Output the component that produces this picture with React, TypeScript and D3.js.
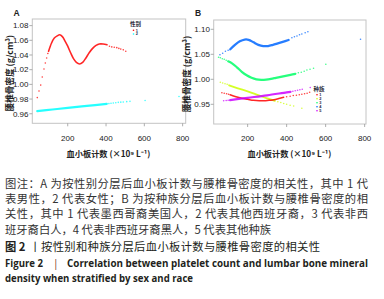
import React from 'react';
import * as d3 from 'd3';

type P = [number, number];

// ---------- axis ticks ----------
const xTicks = [200, 400, 600, 800];
const yTicksA = [0.96, 0.98, 1.0, 1.02, 1.04, 1.06, 1.08];
const yTicksB = [0.95, 1.0, 1.05, 1.1];

// ---------- legends ----------
const sexLevels = ['1', '2'];
const sexColors = ['#FF0000', '#00FFFF'];
const raceLevels = ['1', '2', '3', '4', '5'];
const raceColors = ['#FF0000', '#CCFF00', '#00FF66', '#0066FF', '#CC00FF'];

// ---------- Panel A (sex) ----------
const aSex1Left: P[] = [[41, 0.982], [50, 0.991], [59, 0.999], [67, 1.01], [76, 1.021], [83, 1.029], [90, 1.036], [96, 1.042]];
const aSex1Dense: P[] = [[100, 1.045], [115, 1.056], [130, 1.063], [145, 1.066], [158, 1.0675], [172, 1.065], [186, 1.059], [200, 1.052], [215, 1.043], [230, 1.035], [245, 1.03], [262, 1.0278], [278, 1.03], [295, 1.036], [312, 1.043], [330, 1.049], [348, 1.053], [365, 1.055], [385, 1.055], [405, 1.054]];
const aSex1Right: P[] = [[418, 1.052], [430, 1.051], [443, 1.0505], [456, 1.05], [467, 1.049], [477, 1.048], [490, 1.047], [503, 1.045]];

const aSex2Dense: P[] = [[41, 0.9635], [120, 0.9658], [200, 0.968], [300, 0.9707], [404, 0.9735]];
const aSex2Right: P[] = [[415, 0.9738], [426, 0.9742], [438, 0.9746], [451, 0.975], [464, 0.9755], [477, 0.9758], [490, 0.976], [508, 0.9765], [525, 0.9769], [604, 0.978], [781, 0.9835]];

// ---------- Panel B (race) ----------
const bR1Left: P[] = [[68, 0.973], [80, 0.972], [92, 0.971], [102, 0.97]];
const bR1Dense: P[] = [[110, 0.969], [140, 0.965], [170, 0.962], [200, 0.96], [230, 0.958], [260, 0.957], [285, 0.957], [310, 0.958], [335, 0.959], [360, 0.9615], [385, 0.964]];
const bR1Right: P[] = [[400, 0.965], [418, 0.966], [434, 0.9675], [450, 0.968], [465, 0.969], [478, 0.97], [492, 0.971], [505, 0.972], [518, 0.974]];

const bR2Left: P[] = [[60, 0.994], [72, 0.9925], [84, 0.991], [95, 0.99]];
const bR2Dense: P[] = [[105, 0.988], [150, 0.982], [200, 0.976], [250, 0.969], [300, 0.962], [340, 0.957]];
const bR2Right: P[] = [[355, 0.955], [370, 0.9535], [385, 0.9515], [400, 0.95], [418, 0.948], [436, 0.9466], [478, 0.942]];

const bR3Left: P[] = [[51, 1.044], [60, 1.043], [70, 1.041], [80, 1.04], [90, 1.038]];
const bR3Dense: P[] = [[100, 1.036], [120, 1.032], [145, 1.024], [170, 1.015], [195, 1.008], [220, 1.003], [245, 1.0], [270, 0.999], [295, 0.9995], [320, 1.001], [345, 1.003], [370, 1.005], [395, 1.007], [420, 1.009], [445, 1.011]];
const bR3Right: P[] = [[460, 1.013], [475, 1.014], [490, 1.016], [504, 1.0186], [520, 1.02], [538, 1.022], [601, 1.03]];

const bR4Left: P[] = [[58, 1.049], [72, 1.052], [86, 1.056], [100, 1.058]];
const bR4Dense: P[] = [[111, 1.06], [135, 1.069], [160, 1.076], [185, 1.0795], [205, 1.079], [230, 1.074], [255, 1.069], [280, 1.0665], [305, 1.0665], [330, 1.069], [355, 1.072], [380, 1.075], [410, 1.0786]];
const bR4Right: P[] = [[427, 1.083], [440, 1.085], [453, 1.0866], [466, 1.089], [478, 1.0906], [495, 1.093], [509, 1.095], [779, 1.08]];

const bR5Left: P[] = [[77, 0.957], [90, 0.9575], [100, 0.958]];
const bR5Dense: P[] = [[110, 0.9585], [200, 0.963], [300, 0.968], [400, 0.974], [420, 0.975]];
const bR5Right: P[] = [[432, 0.976], [444, 0.977], [456, 0.978], [468, 0.979], [480, 0.98], [521, 0.9835]];

// ---------- caption ----------
const captionLines = [
  '图注：A 为按性别分层后血小板计数与腰椎骨密度的相关性，其中 1 代',
  '表男性，2 代表女性；B 为按种族分层后血小板计数与腰椎骨密度的相',
  '关性，其中 1 代表墨西哥裔美国人，2 代表其他西班牙裔，3 代表非西',
  '班牙裔白人，4 代表非西班牙裔黑人，5 代表其他种族',
];
const titleCn = '按性别和种族分层后血小板计数与腰椎骨密度的相关性';
const titleEn1 = 'Correlation between platelet count and lumbar bone mineral';
const titleEn2 = 'density when stratified by sex and race';

const yLabel = '腰椎骨密度 (g/cm³)';
const xLabel = '血小板计数 (×10⁹ L⁻¹)';

const tickFont = '"Liberation Sans", Arial, sans-serif';
const cjk = '"Noto Sans CJK SC", sans-serif';

type Series = { color: string; left: P[]; dense: P[]; right: P[]; w: number };

function Panel(props: {
  letter: string;
  x0: number; x1: number; y0: number; y1: number;
  xDomain: [number, number]; yDomain: [number, number];
  yTicks: number[]; yFmt: (v: number) => string;
  series: Series[];
  ylabX: number; letterX: number;
  legend: { title: string; x: number; y: number; levels: string[]; colors: string[]; dy: number; step: number };
}) {
  const { x0, x1, y0, y1 } = props;
  const x = d3.scaleLinear().domain(props.xDomain).range([x0, x1]);
  const y = d3.scaleLinear().domain(props.yDomain).range([y1, y0]);
  const line = d3.line<P>().x(d => x(d[0])).y(d => y(d[1])).curve(d3.curveCatmullRom.alpha(0.5));
  const lg = props.legend;
  return (
    <g>
      <text x={props.letterX} y={16} fontFamily={tickFont} fontWeight="bold" fontSize={8.5} fill="#222">{props.letter}</text>
      <rect x={x0} y={y0} width={x1 - x0} height={y1 - y0} fill="#fff" stroke="#c4c4c4" strokeWidth={1} />
      {props.series.map((s, i) => (
        <g key={i}>
          <path d={line(s.dense) || ''} fill="none" stroke={s.color} strokeWidth={s.w} strokeOpacity={0.85} strokeLinecap="round" />
          {[...s.left, ...s.right].map((p, j) => (
            <circle key={j} cx={x(p[0])} cy={y(p[1])} r={0.8} fill={s.color} fillOpacity={0.75} />
          ))}
        </g>
      ))}
      {props.yTicks.map(t => (
        <g key={t}>
          <line x1={x0 - 3} x2={x0} y1={y(t)} y2={y(t)} stroke="#999" strokeWidth={0.8} />
          <text x={x0 - 3.8} y={y(t)} dy="0.35em" textAnchor="end" fontFamily={tickFont} fontSize={8} fill="#222">{props.yFmt(t)}</text>
        </g>
      ))}
      {xTicks.map(t => (
        <g key={t}>
          <line x1={x(t)} x2={x(t)} y1={y1} y2={y1 + 3} stroke="#999" strokeWidth={0.8} />
          <text x={x(t)} y={137.7} dy="0.35em" textAnchor="middle" fontFamily={tickFont} fontSize={8} fill="#222">{t}</text>
        </g>
      ))}
      <text transform={`translate(${props.ylabX},${(y0 + y1) / 2 + 2}) rotate(-90)`} textAnchor="middle" dy="0.35em" fontFamily={cjk} fontWeight={600} fontSize={8.6} fill="#222">{yLabel}</text>
      <text x={(x0 + x1) / 2 - 0.5} y={154.5} dy="0.35em" textAnchor="middle" fontFamily={cjk} fontWeight={600} fontSize={8.2} fill="#222">{xLabel}</text>
      <g>
        <text x={lg.x} y={lg.y} dy="0.35em" fontFamily={cjk} fontWeight="bold" fontSize={5.5} fill="#223">{lg.title}</text>
        {lg.levels.map((l, i) => (
          <g key={l}>
            <circle cx={lg.x + 3.5} cy={lg.y + lg.dy + i * lg.step} r={0.8} fill={lg.colors[i]} />
            <text x={lg.x + 5.8} y={lg.y + lg.dy + i * lg.step} dy="0.35em" fontFamily={tickFont} fontWeight="bold" fontSize={3.9} fill="#224">{l}</text>
          </g>
        ))}
      </g>
    </g>
  );
}

export default function App() {
  const seriesA: Series[] = [
    { color: sexColors[1], left: [], dense: aSex2Dense, right: aSex2Right, w: 2.2 },
    { color: sexColors[0], left: aSex1Left, dense: aSex1Dense, right: aSex1Right, w: 1.6 },
  ];
  const seriesB: Series[] = [
    { color: raceColors[1], left: bR2Left, dense: bR2Dense, right: bR2Right, w: 1.8 },
    { color: raceColors[0], left: bR1Left, dense: bR1Dense, right: bR1Right, w: 1.5 },
    { color: raceColors[4], left: bR5Left, dense: bR5Dense, right: bR5Right, w: 2.2 },
    { color: raceColors[2], left: bR3Left, dense: bR3Dense, right: bR3Right, w: 2.2 },
    { color: raceColors[3], left: bR4Left, dense: bR4Dense, right: bR4Right, w: 2.3 },
  ];
  const capY = [184, 199.2, 214, 229.5];
  return (
    <svg width={384} height={299} style={{ position: 'absolute', left: 0, top: 0, background: '#fff' }}>
      <Panel letter="A" x0={32.3} x1={185.7} y0={19} y1={123.3}
        xDomain={[15, 816]} yDomain={[0.947, 1.089]}
        yTicks={yTicksA} yFmt={d3.format('.2f')} series={seriesA}
        ylabX={10} letterX={13.5}
        legend={{ title: '性别', x: 130, y: 24, levels: sexLevels, colors: sexColors, dy: 6.2, step: 3.8 }} />
      <Panel letter="B" x0={213.7} x1={366} y0={20} y1={124}
        xDomain={[26, 807]} yDomain={[0.9106, 1.1186]}
        yTicks={yTicksB} yFmt={d3.format('.2f')} series={seriesB}
        ylabX={187} letterX={195}
        legend={{ title: '种族', x: 313.5, y: 89.5, levels: raceLevels, colors: raceColors, dy: 5.3, step: 4.0 }} />
      {captionLines.map((t, i) => (
        <text key={i} x={5} y={capY[i]} dy="0.36em" fontFamily={cjk} fontSize={11.3} fill="#333"
          {...(i < 3 ? { textLength: 363, lengthAdjust: 'spacing' } : {})}>{t}</text>
      ))}
      <text x={5} y={246.7} dy="0.36em" fontFamily={cjk} fontSize={11.3} fill="#231f20">
        <tspan fontWeight="bold">图 2</tspan>
      </text>
      <text x={29.5} y={246.7} dy="0.36em" fontFamily={cjk} fontSize={11.3} fill="#231f20">丨</text>
      <text x={41} y={246.7} dy="0.36em" fontFamily={cjk} fontSize={11.3} fill="#231f20" textLength={279} lengthAdjust="spacing">{titleCn}</text>
      <text x={5} y={263.3} dy="0.36em" fontFamily='"Open Sans", sans-serif' fontWeight="bold" fontSize={10.2} fill="#231f20" textLength={38} lengthAdjust="spacingAndGlyphs">Figure 2</text>
      <text x={53} y={263.3} dy="0.36em" fontFamily='"Open Sans", sans-serif' fontSize={10.2} fill="#7a3a20">|</text>
      <text x={67} y={263.3} dy="0.36em" fontFamily='"Open Sans", sans-serif' fontWeight="bold" fontSize={10.2} fill="#231f20" textLength={301} lengthAdjust="spacingAndGlyphs">{titleEn1}</text>
      <text x={5} y={278.3} dy="0.36em" fontFamily='"Open Sans", sans-serif' fontWeight="bold" fontSize={10.2} fill="#231f20" textLength={188} lengthAdjust="spacingAndGlyphs">{titleEn2}</text>
    </svg>
  );
}
